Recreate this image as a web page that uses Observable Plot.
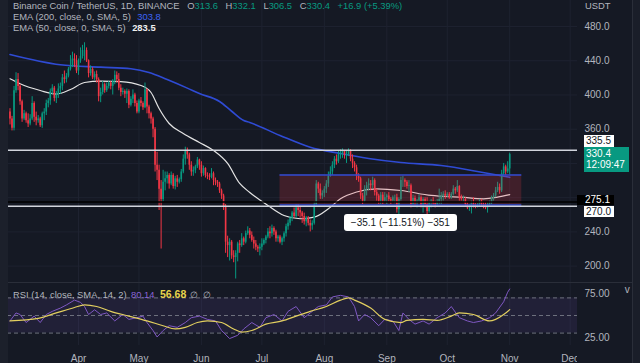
<!DOCTYPE html>
<html><head><meta charset="utf-8">
<script src="https://cdn.jsdelivr.net/npm/d3@7"></script>
<script src="https://cdn.jsdelivr.net/npm/@observablehq/plot@0.6"></script>
<style>
html,body{margin:0;padding:0;background:#151924;}
#wrap{position:relative;width:640px;height:363px;overflow:hidden;background:#151924;font-family:"Liberation Sans",Arial,sans-serif;}
#wrap svg{position:absolute;left:0;}
.abs{position:absolute;white-space:nowrap;}
.leg{position:absolute;white-space:nowrap;font-size:9.4px;line-height:11px;color:#b2b5be;}
.tag{position:absolute;font-size:10px;line-height:11px;padding-left:2px;box-sizing:border-box;white-space:nowrap;}
</style></head><body><div id="wrap"></div>
<script>
// ---------- data (BINANCE BNB/USDT daily) ----------
const startDate = "2022-02-26";
const firstOpen = 380;
// each day: [close, high, low]; open = previous close
const feb = [[372,384,365],[361,375,358],[405,410,358]];
const mar = [
[418,426,402],[410,425,405],[392,412,388],[372,394,368],[378,382,370],[370,380,367],[366,378,362],[372,377,364],[390,398,370],[374,392,368],
[370,380,364],[372,376,367],[364,374,362],[378,380,361],[380,384,370],[390,394,376],[393,396,385],[404,407,388],[408,412,400],[396,410,392],
[400,404,390],[407,413,396],[410,414,401],[420,424,405],[418,428,413],[422,425,414],[430,432,420],[433,446,428],[442,450,432],[440,448,432],
[428,446,425]];
const apr = [
[440,442,423],[445,455,437],[452,458,442],[452,461,440],[440,455,438],[425,441,420],[430,434,422],[420,432,418],[424,427,417],[418,428,414],
[398,420,392],[403,408,391],[412,416,400],[405,414,402],[410,414,403],[414,416,407],[410,416,406],[416,418,400],[423,428,412],[418,427,414],
[408,425,405],[403,412,398],[404,408,400],[401,406,396],[404,407,390],[388,406,384],[395,398,386],[400,406,390],[390,402,386],[380,393,378]];
const may = [
[393,395,378],[390,397,386],[385,392,382],[406,414,384],[386,407,378],[378,388,372],[372,380,366],[360,374,350],[318,362,310],[312,333,300],
[290,318,265],[278,300,220],[298,312,275],[302,310,288],[306,310,296],[296,308,290],[306,310,294],[293,308,290],[302,305,289],[298,306,292],
[301,303,296],[310,313,298],[325,330,308],[335,339,318],[330,338,325],[318,332,312],[310,322,305],[312,316,305],[316,318,308],[324,327,314],
[318,325,312]];
const jun = [
[308,322,304],[314,317,305],[306,315,303],[305,309,301],[304,308,300],[308,314,302],[300,310,294],[298,303,294],[296,300,292],[288,298,285],
[282,290,278],[270,284,265],[228,272,215],[224,235,210],[228,232,206],[212,230,208],[210,218,204],[215,218,185],[226,228,205],[224,230,215],
[232,238,222],[228,234,224],[238,241,226],[241,246,236],[236,244,232],[230,240,228],[226,234,220],[222,230,218],[220,224,216],[222,226,212]];
const jul = [
[226,232,218],[230,232,224],[234,236,226],[240,244,232],[238,246,232],[244,248,234],[240,246,236],[232,242,228],[234,236,228],[228,236,226],
[232,234,224],[238,240,228],[246,249,234],[250,254,242],[256,258,247],[262,264,252],[258,268,256],[268,272,256],[265,272,258],[262,270,256],
[258,264,250],[252,262,248],[256,258,246],[250,258,247],[247,254,240],[250,253,242],[272,275,248],[296,300,270],[290,298,285],[282,296,278],
[285,288,278]];
const aug = [
[290,293,280],[296,300,285],[305,310,292],[310,316,304],[318,322,306],[325,328,314],[322,330,318],[330,334,320],[332,336,325],[334,337,326],
[329,335,325],[330,334,320],[334,337,328],[325,336,322],[320,330,314],[315,322,310],[305,318,300],[302,308,298],[282,304,278],[276,285,272],
[290,294,274],[294,298,282],[296,302,288],[294,300,288],[300,304,290],[286,302,282],[282,290,276],[276,284,272],[283,286,272],[276,286,272],
[280,286,274]];
const sep = [
[282,284,272],[278,286,275],[276,280,272],[280,282,274],[280,283,273],[266,284,262],[278,280,260],[300,304,276],[300,305,292],[298,302,292],
[293,300,290],[294,300,286],[272,296,268],[279,283,270],[274,282,270],[276,278,268],[280,284,274],[270,282,268],[278,280,262],[272,280,268],
[264,280,259],[274,276,262],[276,278,268],[273,280,271],[272,276,268],[275,278,270],[278,290,272],[282,286,272],[284,287,276],[282,288,278]];
const oct = [
[284,286,280],[280,286,278],[284,286,278],[290,294,282],[288,292,284],[293,300,286],[280,294,276],[278,283,276],[278,282,275],[272,280,270],
[268,274,266],[270,272,264],[273,276,261],[271,280,268],[269,273,267],[271,273,268],[276,278,269],[272,278,269],[270,274,267],[268,274,266],
[272,274,262],[274,276,270],[280,282,272],[282,285,276],[288,292,280],[292,298,286],[288,296,284],[308,312,286],[316,320,306],[310,318,306],
[313.6,322,308]];
const nov = [[330.4,332.1,306.5]];

const ema200 = [["2022-02-26",447.3],["2022-03-23",435.3],["2022-04-12",432.5],["2022-04-27",430.6],["2022-05-06",426.3],["2022-05-15",418],["2022-05-25",408],["2022-05-31",401.7],["2022-06-10",392.4],["2022-06-16",381],["2022-06-22",370.2],["2022-06-25",367.9],["2022-07-10",352.7],["2022-07-25",339],["2022-08-09",331.6],["2022-08-23",325.8],["2022-09-08",321.1],["2022-09-28",317.6],["2022-10-18",309.8],["2022-11-01",303.8]];
const ema50 = [["2022-02-26",418.9],["2022-03-03",413.1],["2022-03-13",405.2],["2022-03-21",401.1],["2022-03-28",406.4],["2022-04-04",414.6],["2022-04-12",416.3],["2022-04-22",415.7],["2022-05-02",411.1],["2022-05-07",402.9],["2022-05-11",384.2],["2022-05-16",366.7],["2022-05-23",355],["2022-05-31",344.5],["2022-06-07",335.1],["2022-06-14",320],["2022-06-20",296.6],["2022-06-25",286.1],["2022-07-04",270.9],["2022-07-12",259.2],["2022-07-20",255.4],["2022-07-27",257.2],["2022-08-03",267],["2022-08-09",278.7],["2022-08-17",286.7],["2022-08-27",290.4],["2022-09-08",288.4],["2022-09-23",282.6],["2022-10-08",280.6],["2022-10-19",278.7],["2022-10-26",280.6],["2022-11-01",283.5]];

const rsi = [["2022-02-26",43.8],["2022-03-01",52.9],["2022-03-03",51.1],["2022-03-06",42],["2022-03-10",49.3],["2022-03-13",42],["2022-03-16",51.1],["2022-03-19",54.7],["2022-03-23",58.4],["2022-03-26",62],["2022-03-30",67.5],["2022-04-02",64.9],["2022-04-04",60.2],["2022-04-06",51.1],["2022-04-09",56.5],["2022-04-12",51.1],["2022-04-15",52.9],["2022-04-19",43.8],["2022-04-23",51.1],["2022-04-26",45.6],["2022-04-30",47.5],["2022-05-03",49.3],["2022-05-05",42],["2022-05-08",32.9],["2022-05-10",25.6],["2022-05-13",32.9],["2022-05-16",38.4],["2022-05-20",36.5],["2022-05-24",42],["2022-05-27",47.5],["2022-05-31",49.3],["2022-06-04",45.6],["2022-06-08",43.8],["2022-06-11",32.9],["2022-06-15",23.8],["2022-06-19",27.5],["2022-06-22",34.7],["2022-06-26",42],["2022-06-30",36.5],["2022-07-03",47.5],["2022-07-07",51.1],["2022-07-11",43.8],["2022-07-14",54.7],["2022-07-18",60.2],["2022-07-22",47.5],["2022-07-25",52.9],["2022-07-29",60.2],["2022-08-02",62],["2022-08-05",71.1],["2022-08-09",72.9],["2022-08-13",71.1],["2022-08-16",60.2],["2022-08-18",43.8],["2022-08-21",51.1],["2022-08-24",47.5],["2022-08-28",38.4],["2022-08-31",45.6],["2022-09-04",43.8],["2022-09-07",32.9],["2022-09-09",52.9],["2022-09-12",45.6],["2022-09-15",40.2],["2022-09-19",43.8],["2022-09-22",40.2],["2022-09-26",47.5],["2022-09-30",52.9],["2022-10-03",60.2],["2022-10-07",47.5],["2022-10-11",43.8],["2022-10-14",42],["2022-10-18",43.8],["2022-10-22",47.5],["2022-10-25",52.9],["2022-10-29",65.6],["2022-10-31",76.5],["2022-11-01",80.14]];
const rsiMA = [["2022-02-26",43.8],["2022-03-12",46.7],["2022-03-21",52.9],["2022-03-30",59.1],["2022-04-04",62],["2022-04-10",60.2],["2022-04-17",54.7],["2022-04-26",49.3],["2022-05-05",43.8],["2022-05-13",38.4],["2022-05-19",34.7],["2022-05-24",36.5],["2022-05-30",42],["2022-06-04",43.8],["2022-06-11",42],["2022-06-17",34.7],["2022-06-21",31.1],["2022-06-26",32.9],["2022-07-03",40.2],["2022-07-11",43.8],["2022-07-18",49.3],["2022-07-25",54.7],["2022-08-02",60.2],["2022-08-09",67.5],["2022-08-13",70],["2022-08-16",67.5],["2022-08-24",58.4],["2022-08-31",45.6],["2022-09-08",42],["2022-09-11",44.5],["2022-09-19",45.6],["2022-09-26",44.5],["2022-10-03",49.3],["2022-10-07",52.9],["2022-10-14",51.1],["2022-10-22",43.8],["2022-10-25",45.6],["2022-10-29",51.1],["2022-11-01",56.68]];

const gridTicks = [200,240,280,320,360,400,440,480];
const priceLabels = [200,240,360,400,440,480]; // 280 and 320 sit behind the price tags
const rsiTicks = [25,75];
const rsiBands = [70,50,30];
const monthTicks = ["2022-04-01","2022-05-01","2022-06-01","2022-07-01","2022-08-01","2022-09-01","2022-10-01","2022-11-01","2022-12-01"];
const whiteLevels = [335.5, 270.0];
const blackLevel = 275.1;
const rangeFrom = "2022-07-10", rangeTo = "2022-11-07", rangeTop = 306.6, rangeBottom = 271.5;
const rangeLabel = "\u221235.1 (\u221211.51%) \u2212351";
const lastPrice = 330.4, countdown = "12:09:47";

// ---------- build ----------
const parse = d3.utcParse("%Y-%m-%d");
const t0 = parse(startDate);
const bars = [feb, mar, apr, may, jun, jul, aug, sep, oct, nov].flat();
let prev = firstOpen;
const candles = bars.map(([c, h, l], i) => {
  const o = prev; prev = c;
  return {date: d3.utcDay.offset(t0, i), open: o, close: c, high: Math.max(h, o, c), low: Math.min(l, o, c)};
});
const pts = a => a.map(([d, v]) => ({date: parse(d), v}));
const monthDates = monthTicks.map(parse);
const apr1 = Date.UTC(2022, 3, 1);
const xDomain = [new Date(apr1 - 38.71 * 864e5), new Date(apr1 + 247.64 * 864e5)];
const up = "#089981", down = "#f23645";
const grid = "#1e2230";
const font = "Liberation Sans, Arial, sans-serif";
const col = d => d.close >= d.open ? up : down;

const price = Plot.plot({
  width: 640, height: 282, marginLeft: 0, marginRight: 63, marginTop: 0, marginBottom: 0,
  style: {background: "transparent", color: "#b2b5be", fontFamily: font, fontSize: "10px"},
  x: {type: "utc", domain: xDomain, axis: null},
  y: {domain: [180.9, 510.4], axis: null},
  marks: [
    Plot.gridY(gridTicks, {stroke: grid, strokeOpacity: 1}),
    Plot.gridX(monthDates, {stroke: grid, strokeOpacity: 1}),
    Plot.axisY(priceLabels, {anchor: "right", tickSize: 0, tickPadding: 7, tickFormat: d3.format(".1f"), fill: "#b2b5be", fontSize: 10}),
    Plot.line(pts(ema200), {x: "date", y: "v", stroke: "#2f4bd4", strokeWidth: 1.6, curve: "monotone-x"}),
    Plot.line(pts(ema50), {x: "date", y: "v", stroke: "#e4e4e4", strokeWidth: 1.2, curve: "monotone-x"}),
    Plot.ruleX(candles, {x: "date", y1: "low", y2: "high", stroke: col, strokeWidth: 1}),
    Plot.ruleX(candles, {x: "date", y1: "open", y2: "close", stroke: col, strokeWidth: 1.6}),
    Plot.rect([{}], {x1: () => parse(rangeFrom), x2: () => parse(rangeTo), y1: () => rangeBottom, y2: () => rangeTop, fill: "#f23645", fillOpacity: 0.2}),
    Plot.ruleY([rangeTop, rangeBottom], {x1: () => parse(rangeFrom), x2: () => parse(rangeTo), stroke: "#2f4bd4", strokeWidth: 1.5}),
    Plot.ruleY([blackLevel], {stroke: "#000000", strokeWidth: 1.5}),
    Plot.ruleY(whiteLevels, {stroke: "#d1d4dc", strokeWidth: 1.6})
  ]
});

const rsiPlot = Plot.plot({
  width: 640, height: 81, marginLeft: 0, marginRight: 63, marginTop: 0, marginBottom: 18,
  style: {background: "transparent", color: "#b2b5be", fontFamily: font, fontSize: "10px"},
  x: {type: "utc", domain: xDomain, axis: null},
  y: {domain: [15.9, 87.5], axis: null},
  marks: [
    Plot.gridX(monthDates, {stroke: grid, strokeOpacity: 1}),
    Plot.rect([{}], {x1: () => xDomain[0], x2: () => xDomain[1], y1: () => 30, y2: () => 70, fill: "#7e57c2", fillOpacity: 0.12}),
    Plot.ruleY(rsiBands, {stroke: "#787b86", strokeDasharray: "4,3", strokeOpacity: 0.9}),
    Plot.line(pts(rsi), {x: "date", y: "v", stroke: "#7e57c2", strokeWidth: 1}),
    Plot.line(pts(rsiMA), {x: "date", y: "v", stroke: "#e2cf5f", strokeWidth: 1.2, curve: "monotone-x"}),
    Plot.axisY(rsiTicks, {anchor: "right", tickSize: 0, tickPadding: 7, tickFormat: d3.format(".2f"), fill: "#b2b5be", fontSize: 10}),
    Plot.axisX(monthDates, {anchor: "bottom", tickSize: 0, tickPadding: 9, tickFormat: d3.utcFormat("%b"), fill: "#b2b5be", fontSize: 10})
  ]
});

const wrap = document.getElementById("wrap");
price.style.top = "0px";
rsiPlot.style.top = "282px";
wrap.appendChild(price);
wrap.appendChild(rsiPlot);

const y = v => price.scale("y").apply(v);
const x = d => price.scale("x").apply(d);
function div(cls, css, html) {
  const e = document.createElement("div");
  e.className = cls; e.style.cssText = css; e.innerHTML = html; wrap.appendChild(e); return e;
}
// panel borders / strips
div("abs", "left:0;top:282px;width:632px;height:1px;background:#2a2e39;", "");
div("abs", "left:577px;top:347px;width:55px;height:16px;background:#151924;", "");
div("abs", "left:0;top:0;width:8px;height:363px;background:#1c202b;", "");
div("abs", "left:632px;top:0;width:8px;height:363px;background:#1a1e29;border-left:1px solid #2a2e39;", "");

// range label
const cx = (x(parse(rangeFrom)) + x(parse(rangeTo))) / 2;
div("abs", `left:${cx - 56.5}px;top:${y(rangeBottom) + 10}px;width:113px;height:17px;background:#fff;border-radius:3px;color:#131722;font-size:10px;line-height:17px;text-align:center;`, rangeLabel);

// price tags
div("tag", `left:584px;top:${y(335.5) - 14.7}px;width:30px;height:12px;background:#fff;color:#131722;line-height:12px;`, "335.5");
div("tag", `left:584px;top:${y(lastPrice) - 7.3}px;width:45px;height:25px;background:${up};color:#fff;padding-top:1px;`, lastPrice.toFixed(1) + "<br>" + countdown);
div("tag", `left:577px;top:${y(blackLevel) - 6.4}px;width:37px;height:10.5px;background:#000;color:#fff;padding-left:8px;line-height:10.5px;`, blackLevel.toFixed(1));
div("tag", `left:584px;top:${y(270)}px;width:30px;height:11px;background:#fff;color:#131722;`, "270.0");
div("tag", "left:585px;top:0px;color:#b2b5be;padding:0;font-size:9.4px;", "USDT");

// legends
div("leg", "left:13px;top:0px;", 'Binance Coin / TetherUS, 1D, BINANCE <span style="margin-left:5px">O</span><span style="color:#089981">313.6</span> <span style="margin-left:5px">H</span><span style="color:#089981">332.1</span> <span style="margin-left:5px">L</span><span style="color:#089981">306.5</span> <span style="margin-left:5px">C</span><span style="color:#089981">330.4</span> <span style="color:#089981;margin-left:5px">+16.9 (+5.39%)</span>');
div("leg", "left:13px;top:11px;", 'EMA (200, close, 0, SMA, 5) <span style="color:#3d63f5;margin-left:4px">303.8</span>');
div("leg", "left:13px;top:22px;", 'EMA (50, close, 0, SMA, 5) <span style="color:#f0f0f0;margin-left:4px;font-weight:bold">283.5</span>');
div("leg", "left:13px;top:289px;", 'RSI (14, close, SMA, 14, 2)');
div("leg", "left:131px;top:289px;color:#8a64d6;", '80.14');
div("leg", "left:160px;top:288.5px;color:#e8d44d;font-size:10.5px;font-weight:bold;", '56.68');
div("leg", "left:190px;top:289px;", '\u2205&nbsp;&nbsp;\u2205');
</script></body></html>
